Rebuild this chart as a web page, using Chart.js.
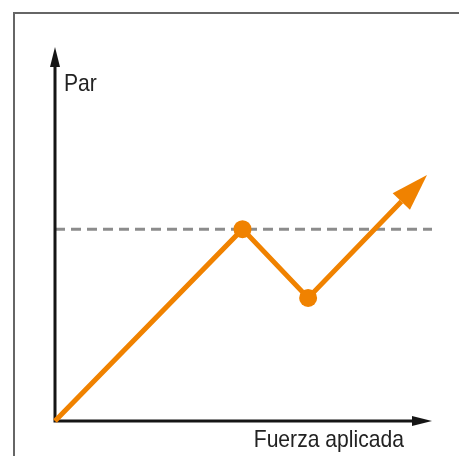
<!DOCTYPE html>
<html>
<head>
<meta charset="utf-8">
<style>
  html, body { margin: 0; padding: 0; background: #fff; }
  #wrap { width: 459px; height: 456px; }
</style>
<script src="https://cdn.jsdelivr.net/npm/chart.js@4/dist/chart.umd.min.js"></script>
</head>
<body>
<div id="wrap"><canvas id="c" width="459" height="456"></canvas></div>
<script>
// Torque response as applied force increases (arbitrary units)
const forceValues = [0, 5.0, 6.75, 9.92];
const torqueValues = [0, 5.13, 3.29, 6.58];
const markerRadius = [0, 9, 9, 0];
const limitTorque = 5.13;
const axisLabels = { x: 'Fuerza aplicada', y: 'Par' };

const ORANGE = '#F08200';
const FONT = '"Liberation Sans Narrow", "Liberation Sans", Arial, sans-serif';
const CONDENSE = 0.88;

// arrowhead geometry for the last segment of the curve
function arrowGeometry(chart) {
  const meta = chart.getDatasetMeta(0);
  const n = meta.data.length;
  const tip = meta.data[n - 1], prev = meta.data[n - 2];
  const dx = tip.x - prev.x, dy = tip.y - prev.y;
  const len = Math.hypot(dx, dy);
  const ux = dx / len, uy = dy / len;
  const headLen = 37, half = 12;
  const bx = tip.x - ux * headLen, by = tip.y - uy * headLen;
  return { tip, ux, uy, bx, by, half };
}

// condensed text: squeeze horizontally around the anchor point
function condensedText(ctx, text, x, y, align) {
  ctx.save();
  ctx.translate(x, y);
  ctx.scale(CONDENSE, 1);
  ctx.textAlign = align;
  ctx.fillText(text, 0, 0);
  ctx.restore();
}

const sketchPlugin = {
  id: 'sketch',
  beforeDatasetsDraw(chart) {
    const { ctx } = chart;
    const xs = chart.scales.x, ys = chart.scales.y;
    const x0 = xs.getPixelForValue(0), y0 = ys.getPixelForValue(0);
    const xEnd = xs.right, yTop = ys.top;
    ctx.save();
    // frame
    ctx.strokeStyle = '#666';
    ctx.lineWidth = 2;
    ctx.beginPath();
    ctx.moveTo(14, 460);
    ctx.lineTo(14, 13);
    ctx.lineTo(462, 13);
    ctx.stroke();

    // threshold dashed line
    const yl = ys.getPixelForValue(limitTorque);
    ctx.strokeStyle = '#8c8c8c';
    ctx.lineWidth = 3;
    ctx.setLineDash([10, 6]);
    ctx.beginPath();
    ctx.moveTo(x0, yl);
    ctx.lineTo(xEnd + 2, yl);
    ctx.stroke();
    ctx.setLineDash([]);

    // axes with arrowheads
    ctx.strokeStyle = '#151515';
    ctx.fillStyle = '#151515';
    ctx.lineWidth = 3;
    ctx.beginPath();
    ctx.moveTo(x0, y0 + 1.5);
    ctx.lineTo(x0, yTop + 15);
    ctx.moveTo(x0 - 1.5, y0);
    ctx.lineTo(xEnd - 15, y0);
    ctx.stroke();
    ctx.beginPath();
    ctx.moveTo(x0, yTop);
    ctx.lineTo(x0 - 5, yTop + 20);
    ctx.lineTo(x0 + 5, yTop + 20);
    ctx.closePath();
    ctx.fill();
    ctx.beginPath();
    ctx.moveTo(xEnd + 2, y0);
    ctx.lineTo(xEnd - 18, y0 - 5);
    ctx.lineTo(xEnd - 18, y0 + 5);
    ctx.closePath();
    ctx.fill();

    // axis titles
    ctx.fillStyle = '#222';
    ctx.font = '24px ' + FONT;
    ctx.textBaseline = 'alphabetic';
    condensedText(ctx, axisLabels.y, x0 + 9, 91, 'left');
    condensedText(ctx, axisLabels.x, 404, 447, 'right');
    ctx.restore();
  },
  beforeDatasetDraw(chart) {
    // keep the line from poking past the arrowhead base
    const { ctx } = chart;
    const g = arrowGeometry(chart);
    const px = -g.uy, py = g.ux, B = 3000;
    ctx.save();
    ctx.beginPath();
    ctx.moveTo(g.bx + px * B, g.by + py * B);
    ctx.lineTo(g.bx + px * B - g.ux * B, g.by + py * B - g.uy * B);
    ctx.lineTo(g.bx - px * B - g.ux * B, g.by - py * B - g.uy * B);
    ctx.lineTo(g.bx - px * B, g.by - py * B);
    ctx.closePath();
    ctx.clip();
  },
  afterDatasetDraw(chart) {
    const { ctx } = chart;
    ctx.restore();
    const g = arrowGeometry(chart);
    const px = -g.uy, py = g.ux;
    ctx.save();
    ctx.fillStyle = ORANGE;
    ctx.beginPath();
    ctx.moveTo(g.tip.x, g.tip.y);
    ctx.lineTo(g.bx + px * g.half, g.by + py * g.half);
    ctx.lineTo(g.bx - px * g.half, g.by - py * g.half);
    ctx.closePath();
    ctx.fill();
    ctx.restore();
  }
};

new Chart(document.getElementById('c'), {
  type: 'scatter',
  data: {
    datasets: [{
      data: forceValues.map((x, i) => ({ x, y: torqueValues[i] })),
      showLine: true,
      borderColor: ORANGE,
      backgroundColor: ORANGE,
      borderWidth: 5,
      borderCapStyle: 'butt',
      borderJoinStyle: 'miter',
      pointRadius: markerRadius,
      pointHoverRadius: markerRadius,
      pointBorderWidth: 0,
      tension: 0,
      clip: false
    }]
  },
  options: {
    responsive: false,
    animation: false,
    events: [],
    layout: { padding: { left: 55, right: 29, top: 47, bottom: 35 } },
    plugins: { legend: { display: false }, tooltip: { enabled: false } },
    scales: {
      x: { type: 'linear', min: 0, max: 10, display: false },
      y: { type: 'linear', min: 0, max: 10, display: false }
    }
  },
  plugins: [sketchPlugin]
});
</script>
</body>
</html>
